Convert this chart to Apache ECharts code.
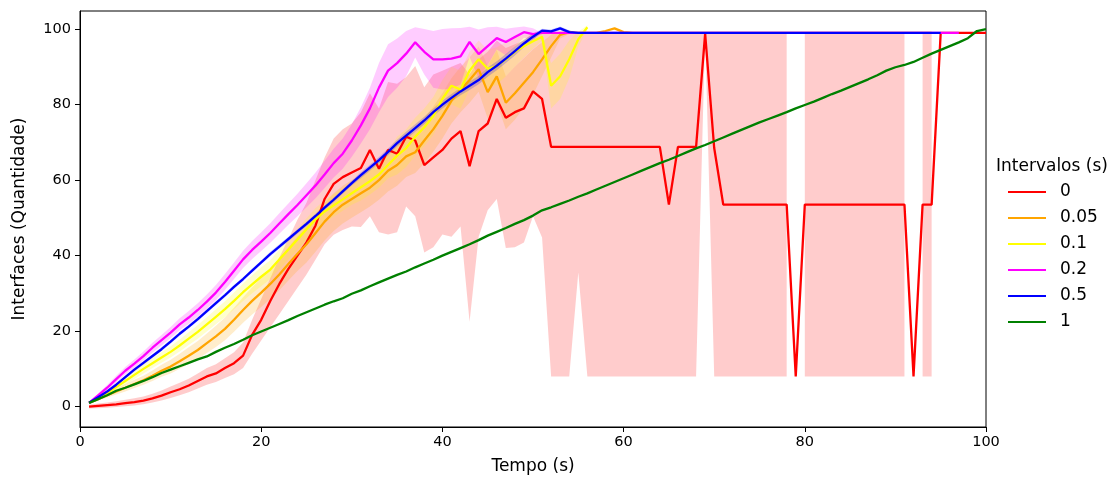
<!DOCTYPE html>
<html>
<head>
<meta charset="utf-8">
<script src="https://cdn.jsdelivr.net/npm/echarts@6/dist/echarts.min.js"></script>
<style>
  html, body { margin: 0; padding: 0; background: #fff; }
  #chart { width: 1118px; height: 481px; }
</style>
</head>
<body>
<div id="chart"></div>
<script>
// eixo x: tempo (s)
var tempo = [
  1, 2, 3, 4, 5, 6, 7, 8, 9, 10,
  11, 12, 13, 14, 15, 16, 17, 18, 19, 20,
  21, 22, 23, 24, 25, 26, 27, 28, 29, 30,
  31, 32, 33, 34, 35, 36, 37, 38, 39, 40,
  41, 42, 43, 44, 45, 46, 47, 48, 49, 50,
  51, 52, 53, 54, 55, 56, 57, 58, 59, 60,
  61, 62, 63, 64, 65, 66, 67, 68, 69, 70,
  71, 72, 73, 74, 75, 76, 77, 78, 79, 80,
  81, 82, 83, 84, 85, 86, 87, 88, 89, 90,
  91, 92, 93, 94, 95, 96, 97, 98, 99, 100
];
var xTicks = [0, 20, 40, 60, 80, 100];
var yTicks = [0, 20, 40, 60, 80, 100];

var intervalos = ['0', '0.05', '0.1', '0.2', '0.5', '1'];
var cores = ['#ff0000', '#ffa500', '#ffff00', '#ff00ff', '#0000ff', '#008000'];
var coresFaixa = ['rgba(255,0,0,0.2)', 'rgba(255,165,0,0.2)', 'rgba(255,255,0,0.2)',
                  'rgba(255,0,255,0.2)', 'rgba(0,0,255,0.2)', 'rgba(0,128,0,0.2)'];

// intervalo 0
var media0 = [
  0, 0.2, 0.4, 0.6, 0.9, 1.2, 1.6, 2.2, 2.9, 3.8,
  4.6, 5.6, 6.8, 8.0, 8.8, 10.2, 11.5, 13.5, 19.0, 23.0,
  28.0, 32.5, 36.5, 40.0, 43.5, 48.0, 55.0, 59.0, 60.8, 62.0,
  63.2, 68.0, 63.0, 68.0, 67.0, 71.5, 70.5, 64.0, 66.0, 68.0,
  71.0, 73.0, 63.7, 73.0, 75.0, 81.5, 76.5, 78.0, 79.0, 83.5,
  81.5, 68.8, 68.8, 68.8, 68.8, 68.8, 68.8, 68.8, 68.8, 68.8,
  68.8, 68.8, 68.8, 68.8, 53.5, 68.8, 68.8, 68.8, 98.8, 68.5,
  53.5, 53.5, 53.5, 53.5, 53.5, 53.5, 53.5, 53.5, 8.0, 53.5,
  53.5, 53.5, 53.5, 53.5, 53.5, 53.5, 53.5, 53.5, 53.5, 53.5,
  53.5, 8.0, 53.5, 53.5, 99, 99, 99, 99, 99, 99
];
var inf0 = [
  -0.5, -0.4, -0.3, -0.1, 0.1, 0.3, 0.6, 1.1, 1.6, 2.3,
  3.0, 3.8, 4.8, 5.8, 6.5, 7.6, 8.6, 10.2, 14.0, 17.5,
  21, 24.5, 28, 31.5, 35, 39, 43, 45.5, 46.8, 47.7,
  47.6, 50.4, 46.2, 45.6, 46.2, 53, 50.4, 40.8, 42.2, 45.6,
  45, 47.7, 22.5, 45, 52, 55, 42, 42.2, 43.5, 50.4,
  44.8, 8, 8, 8, 35.5, 8, 8, 8, 8, 8,
  8, 8, 8, 8, 8, 8, 8, 8, 99, 8,
  8, 8, 8, 8, 8, 8, 8, 8, null, 8,
  8, 8, 8, 8, 8, 8, 8, 8, 8, 8,
  8, null, 8, 8, null, null, null, null, null, null
];
var sup0 = [
  0.5, 0.8, 1.1, 1.4, 1.8, 2.2, 2.7, 3.4, 4.3, 5.3,
  6.3, 7.4, 8.8, 10.2, 11.2, 12.8, 14.4, 17, 23, 28.5,
  34, 39.5, 44.5, 49.5, 54, 60, 66, 71, 73.5, 75,
  78, 83, 79, 86, 85.5, 87.3, 90.2, 84.6, 88, 89,
  90, 91, 88, 92, 94, 97, 95, 96, 97, 99,
  99, 99, 99, 99, 99, 99, 99, 99, 99, 99,
  99, 99, 99, 99, 99, 99, 99, 99, 99, 99,
  99, 99, 99, 99, 99, 99, 99, 99, null, 99,
  99, 99, 99, 99, 99, 99, 99, 99, 99, 99,
  99, null, 99, 99, null, null, null, null, null, null
];

// intervalo 0.05
var media005 = [
  1.0, 2.0, 3.0, 4.0, 5.0, 6.0, 7.0, 8.2, 9.5, 10.6,
  12.0, 13.5, 15.0, 16.8, 18.6, 20.6, 23.0, 25.6, 28.0, 30.2,
  32.5, 35.0, 37.8, 40.5, 43.0, 46.0, 49.0, 51.5, 53.5, 55.0,
  56.5, 58.0, 60.0, 62.5, 64.0, 66.3, 67.4, 70.5, 73.5, 77.0,
  81.0, 84.0, 86.5, 89.4, 83.3, 87.5, 80.5, 83.0, 85.8, 88.6,
  92.0, 95.5, 98.5, 99.2, 99.0, 99.0, 99.0, 99.5, 100.2, 99.2,
  99, 99, 99, 99, 99, 99, 99, 99, 99, 99,
  99, 99, 99, 99, 99, 99, 99, 99, 99, 99,
  99, 99, 99, 99, 99, 99, 99, 99, 99, 99,
  99, 99, 99, 99, null, null, null, null, null, null
];
var desvio005 = [
  0.2, 0.4, 0.6, 0.8, 1.0, 1.1, 1.2, 1.4, 1.6, 1.8,
  2.0, 2.2, 2.4, 2.6, 2.8, 3.0, 3.2, 3.4, 3.6, 3.8,
  4.0, 4.2, 4.4, 4.6, 4.8, 5.0, 5.0, 5.0, 5.0, 5.0,
  5.0, 5.0, 5.2, 5.5, 5.5, 5.5, 5.5, 6.0, 6.0, 6.0,
  6.0, 6.0, 6.0, 6.0, 7.0, 7.0, 7.0, 7.0, 6.5, 6.0,
  4.5, 3.0, 1.0, 0.5, 0, 0, 0, 0, 0, 0,
  0, 0, 0, 0, 0, 0, 0, 0, 0, 0,
  0, 0, 0, 0, 0, 0, 0, 0, 0, 0,
  0, 0, 0, 0, 0, 0, 0, 0, 0, 0,
  0, 0, 0, 0, null, null, null, null, null, null
];

// intervalo 0.1
var media01 = [
  1.0, 2.2, 3.6, 5.2, 6.8, 8.4, 10.0, 11.5, 13.0, 14.5,
  16.2, 18.0, 19.8, 21.8, 23.8, 25.8, 28.0, 30.3, 32.4, 34.4,
  36.3, 39.0, 41.6, 44.3, 47.0, 49.6, 51.7, 53.3, 54.9, 56.5,
  58.1, 59.7, 61.5, 64.0, 66.5, 68.5, 71.5, 74.0, 77.0, 81.5,
  85.0, 84.0, 89.0, 92.0, 89.5, 90.2, 92.0, 94.0, 95.5, 96.8,
  98.0, 85.0, 87.5, 92.0, 97.3, 100.5, null, null, null, null,
  null, null, null, null, null, null, null, null, null, null,
  null, null, null, null, null, null, null, null, null, null,
  null, null, null, null, null, null, null, null, null, null,
  null, null, null, null, null, null, null, null, null, null
];
var desvio01 = [
  0.2, 0.5, 0.7, 0.9, 1.0, 1.1, 1.2, 1.3, 1.4, 1.5,
  1.6, 1.7, 1.8, 1.9, 2.0, 2.1, 2.2, 2.3, 2.4, 2.5,
  2.5, 2.6, 2.7, 2.8, 2.9, 3.0, 3.0, 3.0, 3.0, 3.0,
  3.5, 3.5, 3.5, 3.5, 5.0, 5.0, 5.0, 5.0, 5.0, 5.0,
  5.0, 5.0, 5.0, 5.0, 5.0, 5.0, 4.5, 4.0, 3.0, 2.0,
  1.0, 6.0, 6.0, 5.0, 2.0, 0.5, null, null, null, null,
  null, null, null, null, null, null, null, null, null, null,
  null, null, null, null, null, null, null, null, null, null,
  null, null, null, null, null, null, null, null, null, null,
  null, null, null, null, null, null, null, null, null, null
];

// intervalo 0.2
var media02 = [
  1.0, 3.0, 5.0, 7.3, 9.5, 11.4, 13.4, 15.6, 17.6, 19.6,
  21.8, 23.6, 25.6, 27.8, 30.2, 33.0, 36.0, 39.0, 41.5, 43.7,
  46.0, 48.5, 51.0, 53.4, 56.0, 58.6, 61.5, 64.5, 67.0, 70.5,
  74.5, 79.0, 84.5, 89.0, 91.0, 93.5, 96.5, 94.0, 92.0, 92.0,
  92.2, 92.8, 96.6, 93.4, 95.5, 97.6, 96.6, 97.9, 99.2, 98.7,
  99, 99, 99, 99, 99, 99, 99, 99, 99, 99,
  99, 99, 99, 99, 99, 99, 99, 99, 99, 99,
  99, 99, 99, 99, 99, 99, 99, 99, 99, 99,
  99, 99, 99, 99, 99, 99, 99, 99, 99, 99,
  99, 99, 99, 99, 99, 99, 99, null, null, null
];
var desvio02 = [
  0.2, 0.5, 0.7, 0.9, 1.0, 1.1, 1.2, 1.3, 1.4, 1.5,
  1.6, 1.7, 1.8, 1.9, 2.0, 2.1, 2.2, 2.3, 2.4, 2.5,
  2.6, 2.7, 2.8, 3.0, 3.2, 3.4, 3.6, 3.8, 4.0, 4.3,
  4.8, 5.5, 6.5, 7.0, 6.5, 6.0, 4.0, 6.0, 7.5, 8.0,
  8.0, 7.5, 4.0, 6.5, 5.0, 3.0, 3.5, 2.5, 1.5, 1.5,
  0, 0, 0, 0, 0, 0, 0, 0, 0, 0,
  0, 0, 0, 0, 0, 0, 0, 0, 0, 0,
  0, 0, 0, 0, 0, 0, 0, 0, 0, 0,
  0, 0, 0, 0, 0, 0, 0, 0, 0, 0,
  0, 0, 0, 0, 0, 0, 0, null, null, null
];

// intervalo 0.5
var media05 = [
  1.0, 2.5, 4.0, 5.8, 7.8, 9.8, 11.6, 13.4, 15.2, 17.2,
  19.3, 21.2, 23.2, 25.3, 27.4, 29.5, 31.7, 33.8, 36.0, 38.2,
  40.4, 42.4, 44.4, 46.4, 48.4, 50.5, 52.7, 54.8, 57.0, 59.2,
  61.3, 63.3, 65.3, 67.5, 69.8, 71.8, 73.8, 75.8, 78.0, 80.0,
  81.8, 83.5, 85.0, 86.5, 88.6, 90.3, 92.2, 94.2, 96.2, 98.0,
  99.6, 99.4, 100.2, 99.2, 99, 99, 99, 99, 99, 99,
  99, 99, 99, 99, 99, 99, 99, 99, 99, 99,
  99, 99, 99, 99, 99, 99, 99, 99, 99, 99,
  99, 99, 99, 99, 99, 99, 99, 99, 99, 99,
  99, 99, 99, 99, 99, null, null, null, null, null
];
var desvio05 = [
  0.1, 0.3, 0.3, 0.4, 0.4, 0.4, 0.5, 0.5, 0.5, 0.5,
  0.5, 0.5, 0.5, 0.5, 0.5, 0.5, 0.5, 0.5, 0.5, 0.5,
  0.6, 0.6, 0.6, 0.6, 0.6, 0.6, 0.6, 0.6, 0.6, 0.6,
  0.8, 0.8, 0.8, 0.9, 0.9, 1.0, 1.0, 1.0, 1.0, 1.0,
  1.0, 1.0, 1.1, 1.1, 1.2, 1.2, 1.2, 1.2, 1.0, 0.8,
  0.5, 0.5, 0.5, 0.5, 0, 0, 0, 0, 0, 0,
  0, 0, 0, 0, 0, 0, 0, 0, 0, 0,
  0, 0, 0, 0, 0, 0, 0, 0, 0, 0,
  0, 0, 0, 0, 0, 0, 0, 0, 0, 0,
  0, 0, 0, 0, 0, null, null, null, null, null
];

// intervalo 1
var media1 = [
  1.0, 2.0, 3.0, 4.2, 5.0, 5.9, 6.8, 7.8, 8.9, 9.8,
  10.7, 11.6, 12.5, 13.3, 14.5, 15.6, 16.6, 17.7, 18.9, 19.9,
  20.9, 21.9, 22.9, 24.0, 25.0, 26.0, 27.0, 27.9, 28.7, 29.9,
  30.8, 31.9, 32.9, 33.9, 34.9, 35.8, 36.9, 37.9, 38.9, 40.0,
  41.0, 42.0, 43.0, 44.1, 45.3, 46.3, 47.3, 48.4, 49.4, 50.6,
  52.0, 52.8, 53.7, 54.6, 55.6, 56.5, 57.5, 58.5, 59.5, 60.5,
  61.5, 62.5, 63.5, 64.5, 65.4, 66.4, 67.4, 68.4, 69.3, 70.3,
  71.3, 72.3, 73.3, 74.3, 75.3, 76.2, 77.1, 78.0, 79.0, 79.9,
  80.8, 81.8, 82.8, 83.7, 84.7, 85.7, 86.7, 87.8, 89.0, 89.9,
  90.5, 91.3, 92.4, 93.5, 94.5, 95.5, 96.5, 97.6, 99.5, 100.0
];

var fonte = 'DejaVu Sans';

function pares(vals) {
  var out = [];
  for (var i = 0; i < tempo.length; i++) {
    if (vals[i] != null) out.push([tempo[i], vals[i]]);
  }
  return out;
}

// faixa sombreada: desenhada como poligono(s), quebra onde houver null
function faixa(nome, inf, sup, cor) {
  return {
    type: 'custom',
    name: nome + '_faixa',
    silent: true,
    clip: true,
    z: 1,
    data: [[0, 0]],
    renderItem: function (params, api) {
      var filhos = [];
      var seg = [];
      function fecha() {
        if (seg.length > 1) {
          var pts = [];
          for (var a = 0; a < seg.length; a++) pts.push(api.coord([seg[a][0], seg[a][2]]));
          for (var b = seg.length - 1; b >= 0; b--) pts.push(api.coord([seg[b][0], seg[b][1]]));
          filhos.push({ type: 'polygon', shape: { points: pts }, style: { fill: cor } });
        }
        seg = [];
      }
      for (var i = 0; i < tempo.length; i++) {
        if (inf[i] == null || sup[i] == null) fecha();
        else seg.push([tempo[i], inf[i], sup[i]]);
      }
      fecha();
      return { type: 'group', children: filhos };
    }
  };
}

function limites(media, desvio, sinal) {
  var out = [];
  for (var i = 0; i < media.length; i++) {
    out.push(media[i] == null || desvio[i] == null ? null : media[i] + sinal * desvio[i]);
  }
  return out;
}

function linha(nome, vals, cor) {
  return {
    type: 'line',
    name: nome,
    data: pares(vals),
    color: cor,
    showSymbol: false,
    symbol: 'none',
    z: 2,
    lineStyle: { width: 2.3, color: cor },
    emphasis: { disabled: true }
  };
}

var medias = [media0, media005, media01, media02, media05, media1];
var series = [
  faixa(intervalos[0], inf0, sup0, coresFaixa[0]),
  faixa(intervalos[1], limites(media005, desvio005, -1), limites(media005, desvio005, 1), coresFaixa[1]),
  faixa(intervalos[2], limites(media01, desvio01, -1), limites(media01, desvio01, 1), coresFaixa[2]),
  faixa(intervalos[3], limites(media02, desvio02, -1), limites(media02, desvio02, 1), coresFaixa[3]),
  faixa(intervalos[4], limites(media05, desvio05, -1), limites(media05, desvio05, 1), coresFaixa[4])
];
for (var k = 0; k < intervalos.length; k++) {
  series.push(linha(intervalos[k], medias[k], cores[k]));
}

var myChart = echarts.init(document.getElementById('chart'));
var option = {
  animation: false,
  backgroundColor: '#fff',
  textStyle: { fontFamily: fonte },
  title: {
    text: 'Intervalos (s)',
    left: 996,
    top: 158,
    padding: 0,
    textStyle: { fontFamily: fonte, fontSize: 17, fontWeight: 'normal', color: '#000' }
  },
  legend: {
    data: intervalos,
    orient: 'vertical',
    left: 1008,
    top: 182,
    padding: 0,
    icon: 'rect',
    itemWidth: 38,
    itemHeight: 2,
    itemGap: 6,
    selectedMode: false,
    textStyle: { fontFamily: fonte, fontSize: 17, lineHeight: 20, color: '#000', padding: [0, 0, 0, 9] }
  },
  grid: {
    left: 80,
    right: 132,
    top: 11,
    bottom: 54,
    show: true,
    borderColor: '#000',
    borderWidth: 1,
    containLabel: false
  },
  xAxis: {
    type: 'value',
    min: 0,
    max: 100,
    interval: 20,
    name: 'Tempo (s)',
    nameLocation: 'middle',
    nameGap: 31,
    nameTextStyle: { fontFamily: fonte, fontSize: 17, color: '#000' },
    axisLine: { show: true, onZero: false, lineStyle: { color: '#000', width: 1 } },
    axisTick: { show: true, length: 5, lineStyle: { color: '#000' }, customValues: xTicks },
    axisLabel: { fontFamily: fonte, fontSize: 14.5, color: '#000', margin: 8, customValues: xTicks },
    splitLine: { show: false }
  },
  yAxis: {
    type: 'value',
    min: -5.4,
    max: 104.8,
    name: 'Interfaces (Quantidade)',
    nameLocation: 'middle',
    nameGap: 52,
    nameTextStyle: { fontFamily: fonte, fontSize: 17, color: '#000' },
    axisLine: { show: true, onZero: false, lineStyle: { color: '#000', width: 1 } },
    axisTick: { show: true, length: 5, lineStyle: { color: '#000' }, customValues: yTicks },
    axisLabel: { fontFamily: fonte, fontSize: 14.5, color: '#000', margin: 9, customValues: yTicks },
    splitLine: { show: false }
  },
  series: series
};
myChart.setOption(option);
</script>
</body>
</html>
